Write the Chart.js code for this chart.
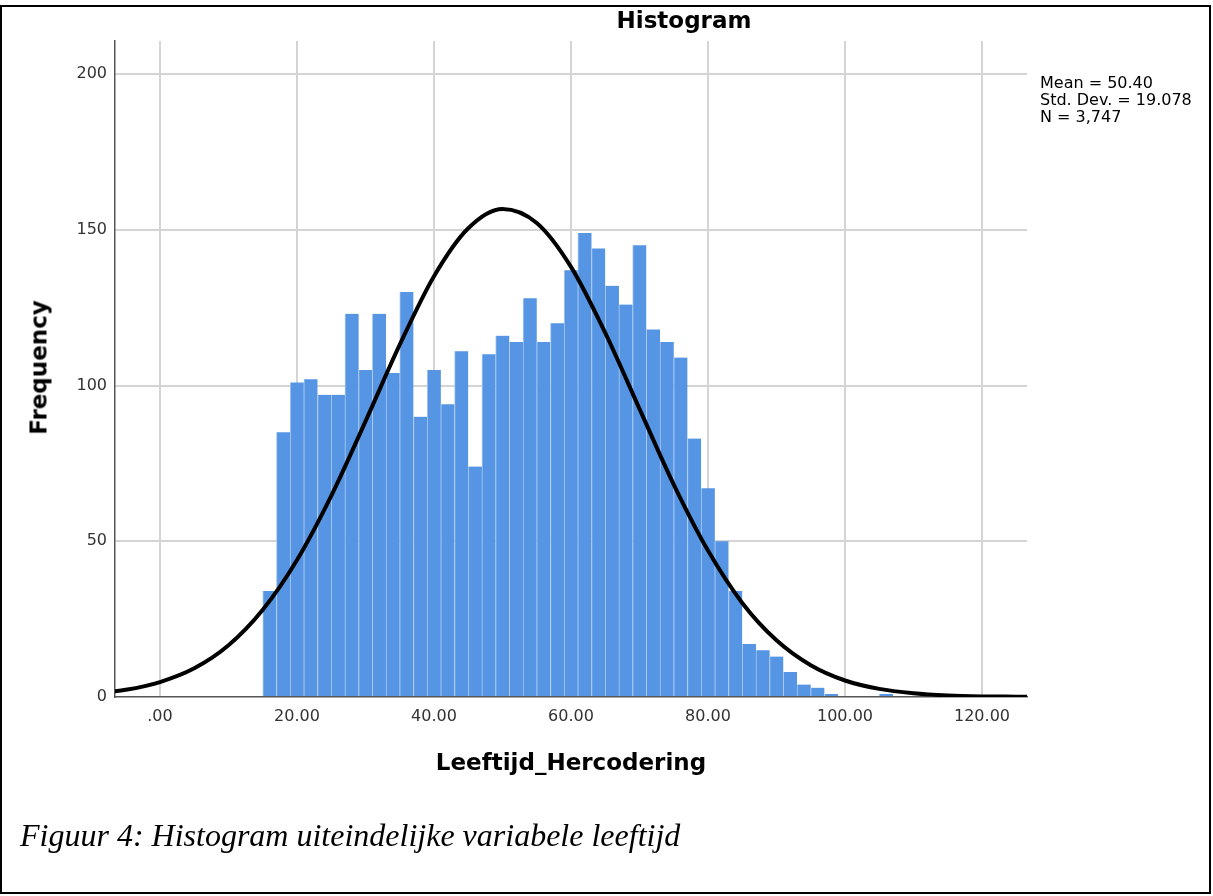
<!DOCTYPE html>
<html>
  <head>
    <script src="https://cdn.jsdelivr.net/npm/chart.js@4.4.1/dist/chart.umd.min.js"></script>
    <style>
      body { margin: 0; background: #fff; }
      #wrap { position: relative; width: 1213px; height: 896px; overflow: hidden; }
      #frame { position: absolute; left: 0; top: 5px; width: 1207px; height: 885px; border: 2px solid #000; }
      canvas { position: absolute; left: 0; top: 0; }
      .t { position: absolute; font-family: 'DejaVu Sans', sans-serif; color: #000; white-space: nowrap; }
      .bold { font-weight: bold; font-size: 23px; line-height: 27px; }
    </style>
  </head>

  <body>
    <div id="wrap">
      <div id="frame"></div>
      <canvas id="canvas" width="1213" height="896"></canvas>
      <div class="t bold" style="left: 584px; top: 7px; width: 200px; text-align: center">Histogram</div>
      <div class="t bold" style="left: 271px; top: 749px; width: 600px; text-align: center">Leeftijd_Hercodering</div>
      <div class="t bold" style="left: -61px; top: 354px; width: 200px; text-align: center; transform: rotate(-90deg)">Frequency</div>
      <div class="t" style="left: 1040px; top: 74px; font-size: 16px; line-height: 17px">
        Mean = 50.40<br>Std. Dev. = 19.078<br>N = 3,747
      </div>
      <div class="t" style="left: 20px; top: 817px; font-family: 'Liberation Serif', serif; font-style: italic; font-size: 32px; line-height: 36px">
        Figuur 4: Histogram uiteindelijke variabele leeftijd
      </div>
    </div>
    <script>
      // leeftijd, bins of 2 years (bin centres)
      const ageBins = [16, 18, 20, 22, 24, 26, 28, 30, 32, 34, 36, 38, 40, 42, 44, 46, 48, 50, 52, 54, 56, 58, 60,
        62, 64, 66, 68, 70, 72, 74, 76, 78, 80, 82, 84, 86, 88, 90, 92, 94, 96, 98, 100, 102, 104, 106];
      const frequencies = [34, 85, 101, 102, 97, 97, 123, 105, 123, 104, 130, 90, 105, 94, 111, 74, 110, 116, 114, 128,
        114, 120, 137, 149, 144, 132, 126, 145, 118, 114, 109, 83, 67, 50, 34, 17, 15, 13, 8, 4, 3, 1, 0, 0, 0, 1];

      // normal curve
      const curveX = [-10, -5, 0, 5, 10, 15, 20, 25, 30, 35, 40, 45, 50, 55, 60, 65, 70, 75, 80, 85, 90, 95, 100,
        105, 110, 115, 120, 125, 130];
      const curveY = [1.0, 2.3, 4.8, 9.2, 16.6, 28.0, 44.0, 64.6, 88.5, 113.1, 135.1, 150.5, 156.7, 152.2, 138.1,
        116.9, 92.5, 68.2, 47.0, 30.2, 18.2, 10.2, 5.3, 2.6, 1.2, 0.5, 0.2, 0.1, 0.0];

      const xTickValues = [0, 20, 40, 60, 80, 100, 120];
      const xTickLabels = ['.00', '20.00', '40.00', '60.00', '80.00', '100.00', '120.00'];
      const yTickValues = [0, 50, 100, 150, 200];

      const tickFont = { family: 'DejaVu Sans', size: 16 };

      new Chart(document.getElementById('canvas').getContext('2d'), {
        type: 'bar',
        data: {
          datasets: [
            {
              type: 'line',
              data: curveX.map((x, i) => ({ x: x, y: curveY[i] })),
              borderColor: '#000',
              borderWidth: 4,
              pointRadius: 0,
              cubicInterpolationMode: 'monotone',
              order: 0,
            },
            {
              type: 'bar',
              data: ageBins.map((x, i) => ({ x: x, y: frequencies[i] })),
              backgroundColor: '#5595e3',
              borderColor: '#aac8f0',
              borderWidth: { left: 1, right: 0, top: 0, bottom: 0 },
              borderSkipped: false,
              barPercentage: 1,
              categoryPercentage: 1,
              order: 1,
            },
          ],
        },
        options: {
          responsive: false,
          animation: false,
          layout: { padding: { left: 0, top: 41, right: 186, bottom: 159 } },
          plugins: {
            legend: { display: false },
            tooltip: { enabled: false },
          },
          scales: {
            x: {
              type: 'linear',
              min: -6.57,
              max: 126.57,
              offset: false,
              afterBuildTicks: (s) => { s.ticks = xTickValues.map((v) => ({ value: v })); },
              afterFit: (s) => { s.height = 40; },
              grid: { offset: false, drawTicks: false, color: '#d4d4d4', lineWidth: 2 },
              border: { color: '#555', width: 1.5 },
              ticks: {
                font: tickFont,
                color: '#333',
                padding: 10,
                maxRotation: 0,
                callback: (v, i) => xTickLabels[i],
              },
            },
            y: {
              min: 0,
              max: 210.6,
              afterBuildTicks: (s) => { s.ticks = yTickValues.map((v) => ({ value: v })); },
              afterFit: (s) => { s.width = 115; },
              grid: {
                drawTicks: false,
                lineWidth: 2,
                color: (ctx) => (ctx.tick && ctx.tick.value === 0 ? 'rgba(0,0,0,0)' : '#d4d4d4'),
              },
              border: { color: '#555', width: 1.5 },
              ticks: { font: tickFont, color: '#333', padding: 8 },
            },
          },
        },
      });
    </script>
  </body>
</html>
